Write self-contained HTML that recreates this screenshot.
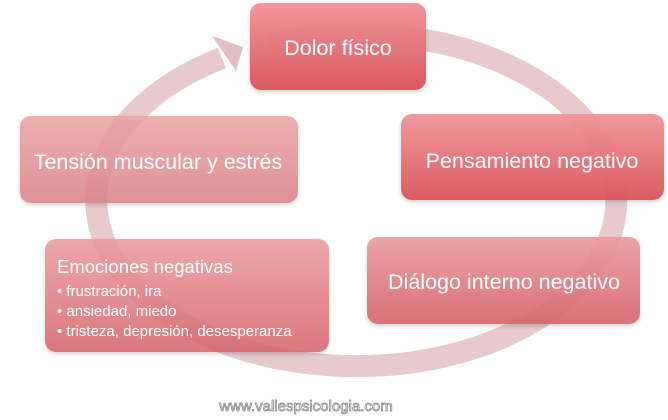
<!DOCTYPE html>
<html><head><meta charset="utf-8"><style>
html,body{margin:0;padding:0;background:#fff;width:668px;height:420px;overflow:hidden}
text{font-family:"Liberation Sans","DejaVu Sans",sans-serif}
</style></head><body>
<svg width="668" height="420" viewBox="0 0 668 420" xmlns="http://www.w3.org/2000/svg">
<defs>
<linearGradient id="g1" x1="0" y1="0" x2="0" y2="1"><stop offset="0" stop-color="#f19599"/><stop offset="1" stop-color="#d9535b"/></linearGradient>
<linearGradient id="g2" x1="0" y1="0" x2="0" y2="1"><stop offset="0" stop-color="#eaa4a8"/><stop offset="1" stop-color="#db8388"/></linearGradient>
<linearGradient id="g3" x1="0" y1="0" x2="0" y2="1"><stop offset="0" stop-color="#eb9ca0"/><stop offset="1" stop-color="#d6666d"/></linearGradient>
<filter id="sh" x="-10%" y="-10%" width="120%" height="130%"><feDropShadow dx="0" dy="2" stdDeviation="2" flood-color="#000" flood-opacity="0.2"/></filter>
</defs>
<path d="M 222 58 A 260 166 0 1 0 268 44" fill="none" stroke="#dcb4b6" stroke-opacity="0.7" stroke-width="22"/>
<polygon points="212,36 243,47 236,71" fill="#dcb4b6" fill-opacity="0.85"/>
<rect x="250" y="3" width="176" height="87" rx="11" fill="url(#g1)" filter="url(#sh)" opacity="0.97"/>
<rect x="20" y="116" width="278" height="87" rx="11" fill="url(#g2)" filter="url(#sh)" opacity="0.88"/>
<rect x="401" y="114" width="263" height="86" rx="11" fill="url(#g1)" filter="url(#sh)" opacity="0.95"/>
<rect x="45" y="239" width="284" height="113" rx="11" fill="url(#g3)" filter="url(#sh)" opacity="0.88"/>
<rect x="367" y="237" width="273" height="87" rx="11" fill="url(#g3)" filter="url(#sh)" opacity="0.92"/>
<g fill="#fff">
<text x="338" y="55" text-anchor="middle" font-size="21.5">Dolor físico</text>
<text x="158" y="169" text-anchor="middle" font-size="21.5">Tensión muscular y estrés</text>
<text x="532" y="168" text-anchor="middle" font-size="21.5">Pensamiento negativo</text>
<text x="504" y="289" text-anchor="middle" font-size="21.5">Diálogo interno negativo</text>
<text x="57" y="273" font-size="18.5">Emociones negativas</text>
<g font-size="15">
<text x="57" y="296">•  frustración, ira</text>
<text x="57" y="316">•  ansiedad, miedo</text>
<text x="57" y="336">•  tristeza, depresión, desesperanza</text>
</g>
</g>
<text x="306" y="411" text-anchor="middle" font-size="15" fill="#fff" stroke="#8a8a8a" stroke-width="0.8">www.vallespsicologia.com</text>
</svg>
</body></html>
